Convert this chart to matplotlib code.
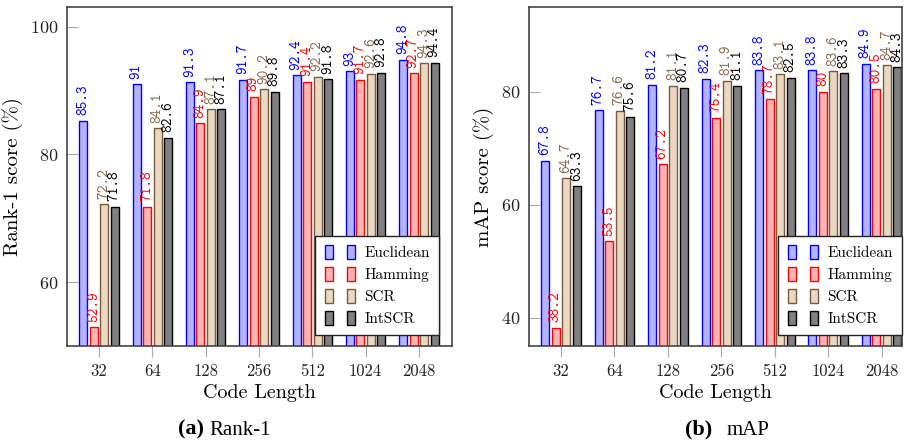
import matplotlib
matplotlib.use("Agg")
from matplotlib import pyplot as plt
from matplotlib.patches import Rectangle
from matplotlib.legend_handler import HandlerTuple
import numpy as np

plt.rcParams['font.family'] = ['cmr10', 'DejaVu Serif']
plt.rcParams['axes.formatter.use_mathtext'] = True

codes = ['32', '64', '128', '256', '512', '1024', '2048']
methods = ['Euclidean', 'Hamming', 'SCR', 'IntSCR']

rank1_euclid = [85.3, 91, 91.3, 91.7, 92.4, 93, 94.8]
rank1_hamming = [52.9, 71.8, 84.9, 89, 91.4, 91.7, 92.7]
rank1_scr = [72.2, 84.1, 87.1, 90.2, 92.2, 92.6, 94.3]
rank1_intscr = [71.8, 82.6, 87.1, 89.8, 91.8, 92.8, 94.4]

map_euclid = [67.8, 76.7, 81.2, 82.3, 83.8, 83.8, 84.9]
map_hamming = [38.2, 53.5, 67.2, 75.4, 78.7, 80, 80.5]
map_scr = [64.7, 76.6, 81.1, 81.9, 83.1, 83.6, 84.7]
map_intscr = [63.3, 75.6, 80.7, 81.1, 82.5, 83.3, 84.3]

fills = ['#b3b3ff', '#ffb3b3', '#ead8c2', '#808080']
edges = ['#0000ff', '#ff0000', '#7a5a3a', '#000000']
label_colors = ['#0000ff', '#ff0000', '#8a6a4a', '#000000']

spine_col = '#444444'


def draw_panel(ax, series, ylabel, ylim, yticks, xlim, legend_x):
    x = np.arange(len(codes))
    step = 0.197
    width = 0.15
    for k, vals in enumerate(series):
        pos = x + (k - 1.5) * step
        ax.bar(pos, vals, width, color=fills[k], edgecolor=edges[k],
               linewidth=1.0, zorder=2)
        for px, v in zip(pos, vals):
            ax.annotate(f'{v:g}', (px, v), xytext=(0, 4), textcoords='offset points',
                        rotation=90, ha='center', va='bottom', fontsize=10.5,
                        family=['cmtt10', 'DejaVu Sans Mono'], color=label_colors[k],
                        clip_on=False)
    ax.set_xlim(*xlim)
    ax.set_ylim(*ylim)
    ax.set_yticks(yticks)
    ax.set_xticks(x)
    ax.set_xticklabels(codes)
    ax.tick_params(axis='x', direction='out', length=8, color='#aaaaaa',
                   labelsize=12, labelcolor='#222222', pad=5)
    ax.tick_params(axis='y', direction='in', length=8, color='#aaaaaa',
                   labelsize=13, labelcolor='#222222', pad=6)
    for s in ax.spines.values():
        s.set_color(spine_col)
        s.set_linewidth(1.2)
    ax.set_ylabel(ylabel, fontsize=15, labelpad=5)
    ax.set_xlabel('Code Length', fontsize=14.5, labelpad=3)

    handles = []
    for k in range(4):
        p1 = Rectangle((0, 0), 1, 1, facecolor=fills[k], edgecolor=edges[k], linewidth=1.0)
        p2 = Rectangle((0, 0), 1, 1, facecolor=fills[k], edgecolor=edges[k], linewidth=1.0)
        handles.append((p1, p2))
    leg = ax.legend(handles, methods, loc='lower right', bbox_to_anchor=(legend_x, 0.032),
                    borderaxespad=0, fontsize=11, frameon=True, fancybox=False,
                    framealpha=1, edgecolor='#222222', handlelength=2.0,
                    handleheight=1.0, handletextpad=0.6, labelspacing=0.45,
                    borderpad=0.6,
                    handler_map={tuple: HandlerTuple(ndivide=None, pad=0.9)})
    leg.get_frame().set_linewidth(1.0)
    leg.set_zorder(5)


fig = plt.figure(figsize=(9.12, 4.45), dpi=100)
ax1 = fig.add_axes([0.0735, 0.2225, 0.4221, 0.7618])
ax2 = fig.add_axes([0.580, 0.2225, 0.409, 0.7618])

draw_panel(ax1, [rank1_euclid, rank1_hamming, rank1_scr, rank1_intscr],
           'Rank-1 score (%)', (50, 103.1), [60, 80, 100], (-0.6, 6.62), 0.966)
draw_panel(ax2, [map_euclid, map_hamming, map_scr, map_intscr],
           'mAP score (%)', (35, 95), [40, 60, 80], (-0.6, 6.38), 1.0)

# captions
cap_y = 0.012
fig.text(0.224, cap_y, '(a)', fontsize=16, fontweight='bold', ha='right', va='bottom',
         family='Liberation Serif')
fig.text(0.230, cap_y, 'Rank-1', fontsize=15, ha='left', va='bottom',
         family='Liberation Serif')
fig.text(0.781, cap_y, '(b)', fontsize=16, fontweight='bold', ha='right', va='bottom',
         family='Liberation Serif')
fig.text(0.797, cap_y, 'mAP', fontsize=15, ha='left', va='bottom',
         family='Liberation Serif')

fig.savefig('out.png', dpi=100)
